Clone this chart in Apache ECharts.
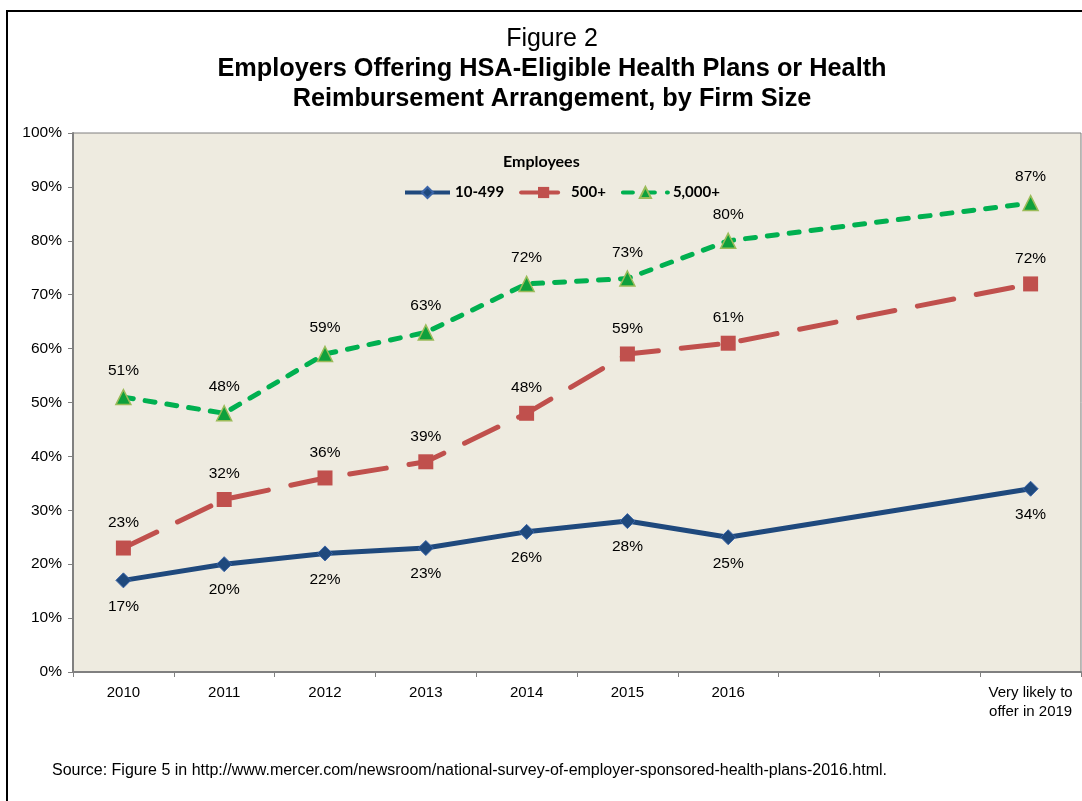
<!DOCTYPE html>
<html>
<head>
<meta charset="utf-8">
<script src="https://cdn.jsdelivr.net/npm/echarts@6/dist/echarts.min.js"></script>
<style>
  html, body { margin: 0; padding: 0; background: #fff; }
  .frame {
    position: absolute; left: 6px; top: 10px; width: 1076px; height: 791px;
    border-left: 2px solid #000; border-top: 2px solid #000; box-sizing: border-box;
  }
  #chart { position: absolute; left: 0; top: 0; width: 1082px; height: 801px; }
</style>
</head>
<body>
<div class="frame"></div>
<div id="chart"></div>
<script>
// 分类（2017、2018 为空位）
var categories = ['2010', '2011', '2012', '2013', '2014', '2015', '2016', '', '', 'Very likely to\noffer in 2019']
var small = [17, 20, 22, 23, 26, 28, 25, null, null, 34]
var large = [23, 32, 36, 39, 48, 59, 61, null, null, 72]
var jumbo = [51, 48, 59, 63, 72, 73, 80, null, null, 87]
var seriesNames = ['10-499', '500+', '5,000+']

var font = 'Arial, "Liberation Sans", sans-serif'
var legendFont = 'Lato, "Open Sans", sans-serif'
var myChart = echarts.init(document.getElementById('chart'))

function lbl(pos) {
  return {
    show: true,
    position: pos,
    distance: 10,
    formatter: '{c}%',
    color: '#000',
    fontSize: 15.5,
    fontFamily: font
  }
}

var option = {
  animation: false,
  title: [
    {
      text: 'Figure 2',
      left: 547,
      textAlign: 'center',
      top: 22,
      textStyle: { fontSize: 25, fontWeight: 'normal', color: '#000', fontFamily: font }
    },
    {
      text: 'Employers Offering HSA-Eligible Health Plans or Health\nReimbursement Arrangement, by Firm Size',
      left: 547,
      textAlign: 'center',
      top: 49,
      textStyle: { fontSize: 25.3, fontWeight: 'bold', color: '#000', fontFamily: font, lineHeight: 30 }
    },
    {
      text: 'Employees',
      left: 498,
      top: 149,
      textStyle: { fontSize: 16, fontWeight: 'bold', color: '#000', fontFamily: legendFont }
    },
    {
      text: 'Source: Figure 5 in http://www.mercer.com/newsroom/national-survey-of-employer-sponsored-health-plans-2016.html.',
      left: 47,
      top: 758,
      textStyle: { fontSize: 16, fontWeight: 'normal', color: '#000', fontFamily: font }
    }
  ],
  legend: {
    left: 398,
    top: 180,
    itemWidth: 45,
    itemHeight: 14,
    itemGap: 15,
    data: seriesNames,
    lineStyle: { width: 4 },
    textStyle: { fontSize: 15, fontWeight: 'bold', color: '#000', fontFamily: legendFont }
  },
  grid: {
    left: 73,
    right: 1,
    top: 133,
    bottom: 129,
    show: true,
    backgroundColor: '#EEEBE0',
    borderColor: '#7f7f7f',
    borderWidth: 1
  },
  xAxis: {
    type: 'category',
    data: categories,
    boundaryGap: true,
    axisLine: { lineStyle: { color: '#808080', width: 2 } },
    axisTick: { show: true, length: 5, lineStyle: { color: '#808080' } },
    axisLabel: { color: '#000', fontSize: 15, fontFamily: font, margin: 11, lineHeight: 19, interval: 0 }
  },
  yAxis: {
    type: 'value',
    min: 0,
    max: 100,
    interval: 10,
    axisLine: { show: true, lineStyle: { color: '#808080', width: 2 } },
    axisTick: { show: true, length: 5, lineStyle: { color: '#808080' } },
    splitLine: { show: false },
    axisLabel: { formatter: '{value}%', color: '#000', fontSize: 15.5, fontFamily: font, margin: 11 }
  },
  series: [
    {
      name: seriesNames[0],
      type: 'line',
      data: small,
      connectNulls: true,
      symbol: 'diamond',
      symbolSize: 15,
      itemStyle: { color: '#1F497D', borderColor: '#3A64A8', borderWidth: 1 },
      lineStyle: { color: '#1F497D', width: 5 },
      label: lbl('bottom'),
      z: 3
    },
    {
      name: seriesNames[1],
      type: 'line',
      data: large,
      connectNulls: true,
      symbol: 'rect',
      symbolSize: 15,
      itemStyle: { color: '#C0504D' },
      lineStyle: { color: '#C0504D', width: 5, type: [37, 23], cap: 'round' },
      label: lbl('top'),
      z: 2
    },
    {
      name: seriesNames[2],
      type: 'line',
      data: jumbo,
      connectNulls: true,
      symbol: 'triangle',
      symbolSize: 15,
      itemStyle: { color: '#0FA03C', borderColor: '#9BBB59', borderWidth: 1.5 },
      lineStyle: { color: '#00B050', width: 5, type: [10, 12], cap: 'round' },
      label: lbl('top'),
      z: 2
    }
  ]
}

myChart.setOption(option)
</script>
</body>
</html>
